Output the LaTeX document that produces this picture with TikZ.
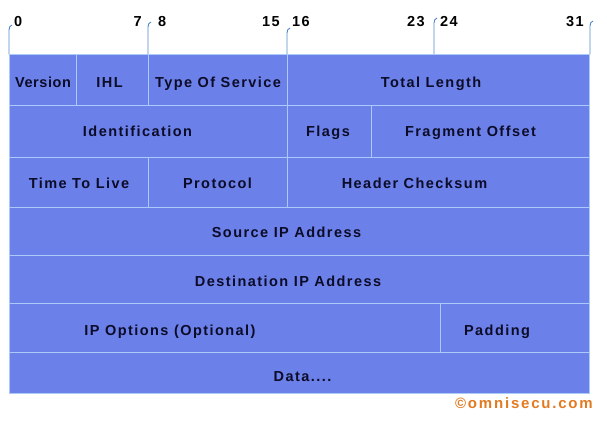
\documentclass[tikz,border=0pt]{standalone}
\usepackage{fontspec}
\setmainfont{Liberation Sans}
\newfontfamily\fieldfamily[LetterSpace=10]{Liberation Sans}
\newfontfamily\tightfamily[LetterSpace=4]{Liberation Sans}
\newfontfamily\brandfamily[LetterSpace=12]{Liberation Sans}
\usepackage{tikz}

\definecolor{cellfill}{RGB}{107,128,232}
\definecolor{cellline}{RGB}{170,202,250}
\definecolor{tickline}{RGB}{80,135,205}
\definecolor{labelink}{RGB}{12,12,40}
\definecolor{brandorange}{RGB}{226,122,34}

\begin{document}
\begin{tikzpicture}[
    x=1pt,y=-1pt,
    field/.style={draw=cellline,fill=cellfill,line width=1pt,inner sep=0pt,
      anchor=north west},
    fieldtext/.style={font=\fieldfamily\bfseries\fontsize{14.5}{16}\selectfont,
      text=labelink,inner sep=0pt,anchor=base},
    tighttext/.style={fieldtext,font=\tightfamily\bfseries\fontsize{14.5}{16}\selectfont},
    bitnum/.style={font=\fieldfamily\bfseries\fontsize{14.5}{16}\selectfont,
      text=black,inner sep=0pt},
    tick/.style={draw=tickline,line width=0.9pt}
  ]
    \useasboundingbox (0,0) rectangle (607,429);

    % header word 1
    \node[field,minimum width=67pt,minimum height=51pt] (version) at (9,54) {};
    \node[field,minimum width=72pt,minimum height=51pt] (ihl) at (76,54) {};
    \node[field,minimum width=139pt,minimum height=51pt] (tos) at (148,54) {};
    \node[field,minimum width=302pt,minimum height=51pt] (totallen) at (287,54) {};
    \node[tighttext] (versiontxt) at (43,87) {Version};
    \node[fieldtext] (ihltxt) at (109.5,87) {IHL};
    \node[fieldtext] (tostxt) at (218,87) {Type Of Service};
    \node[fieldtext] (totallentxt) at (431,87) {Total Length};

    % header word 2
    \node[field,minimum width=278pt,minimum height=52pt] (ident) at (9,105) {};
    \node[field,minimum width=84pt,minimum height=52pt] (flags) at (287,105) {};
    \node[field,minimum width=218pt,minimum height=52pt] (fragoff) at (371,105) {};
    \node[fieldtext] (identtxt) at (137.5,136) {Identification};
    \node[fieldtext] (flagstxt) at (328,136) {Flags};
    \node[fieldtext] (fragofftxt) at (470.5,136) {Fragment Offset};

    % header word 3
    \node[field,minimum width=139pt,minimum height=50pt] (ttl) at (9,157) {};
    \node[field,minimum width=139pt,minimum height=50pt] (proto) at (148,157) {};
    \node[field,minimum width=302pt,minimum height=50pt] (checksum) at (287,157) {};
    \node[fieldtext] (ttltxt) at (79,188) {Time To Live};
    \node[fieldtext] (prototxt) at (217.5,188) {Protocol};
    \node[fieldtext] (checksumtxt) at (414.5,188) {Header Checksum};

    % addresses
    \node[field,minimum width=580pt,minimum height=48pt] (srcip) at (9,207) {};
    \node[field,minimum width=580pt,minimum height=48pt] (dstip) at (9,255) {};
    \node[fieldtext] (srciptxt) at (286.5,237) {Source IP Address};
    \node[fieldtext] (dstiptxt) at (288,286) {Destination IP Address};

    % options and data
    \node[field,minimum width=431pt,minimum height=49pt] (options) at (9,303) {};
    \node[field,minimum width=149pt,minimum height=49pt] (padding) at (440,303) {};
    \node[field,minimum width=580pt,minimum height=41pt] (data) at (9,352) {};
    \node[fieldtext] (optionstxt) at (170,335) {IP Options (Optional)};
    \node[fieldtext] (paddingtxt) at (497,335) {Padding};
    \node[fieldtext] (datatxt) at (302.5,381) {Data....};

    % bit positions
    \node[bitnum,anchor=base west] (bit0) at (14,26) {0};
    \node[bitnum,anchor=base east] (bit7) at (142,26) {7};
    \node[bitnum,anchor=base west] (bit8) at (158,26) {8};
    \node[bitnum,anchor=base east] (bit15) at (280,26) {15};
    \node[bitnum,anchor=base west] (bit16) at (292,26) {16};
    \node[bitnum,anchor=base east] (bit23) at (425,26) {23};
    \node[bitnum,anchor=base west] (bit24) at (440,26) {24};
    \node[bitnum,anchor=base east] (bit31) at (584,26) {31};
    \draw[tick] (version.north west) -- ++(0,-24) .. controls ++(0,-3) and ++(-2,1) .. ++(3,-5);
    \draw[tick] (tos.north west) -- ++(0,-27) .. controls ++(0,-3) and ++(-2,1) .. ++(3,-5);
    \draw[tick] (totallen.north west) -- ++(0,-21) .. controls ++(0,-3) and ++(-2,1) .. ++(3,-5);
    \draw[tick] (checksum.north west) ++(147,-103) -- ++(0,-31) .. controls ++(0,-3) and ++(-2,1) .. ++(3,-5);
    \draw[tick] (totallen.north east) -- ++(0,-28) .. controls ++(0,-3) and ++(-2,1) .. ++(3,-5);
    \draw[tick,draw=cellline] (tos.north west) -- (tos.south west);
    \draw[tick,draw=cellline] (totallen.north west) -- (checksum.south west);

    \node[font=\brandfamily\bfseries\fontsize{15}{17}\selectfont,text=brandorange,
      inner sep=0pt,anchor=base east] (brand) at (593,408) {©omnisecu.com};
  \end{tikzpicture}
\end{document}
